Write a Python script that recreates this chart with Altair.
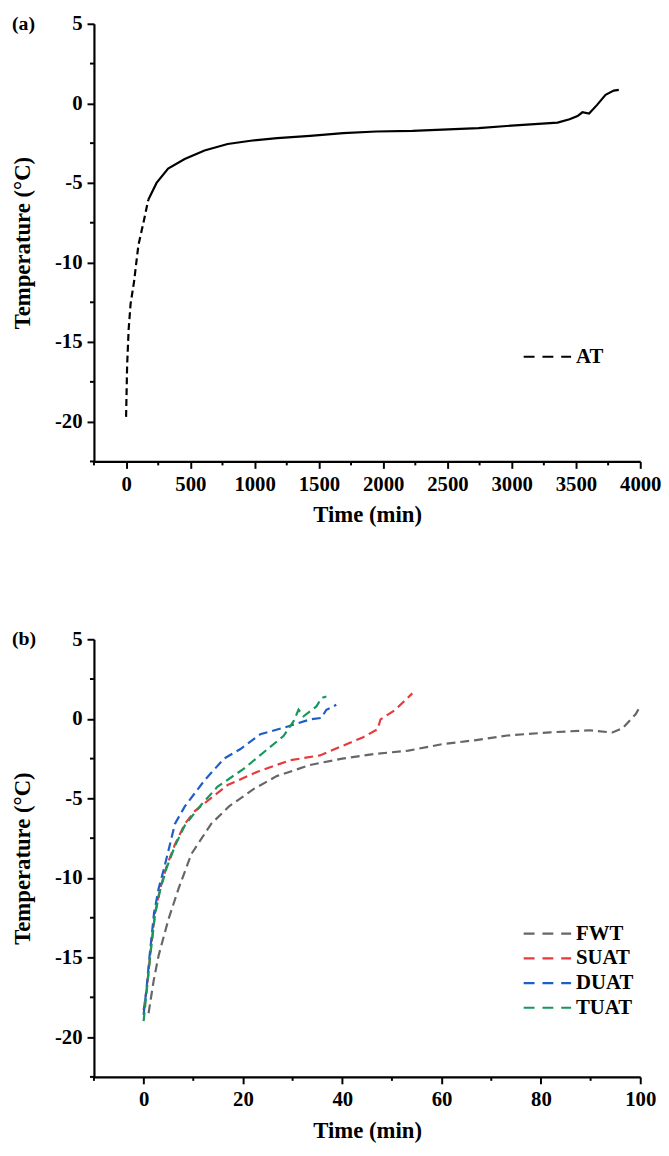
import altair as alt
import pandas as pd

# ---------------- Panel (a): AT ----------------
at_time = [0, 8, 20, 35, 62, 96, 135, 173, 237, 327, 456, 610, 790, 969, 1175,
           1431, 1689, 1945, 2228, 2741, 2998, 3357, 3450, 3512, 3550, 3602,
           3666, 3730, 3794, 3833]
at_temp = [-19.7, -16.5, -14.2, -12.6, -11.2, -8.9, -7.5, -6.05, -5.0, -4.1,
           -3.5, -2.96, -2.55, -2.35, -2.18, -2.04, -1.87, -1.77, -1.73, -1.56,
           -1.40, -1.21, -1.0, -0.80, -0.56, -0.64, -0.08, 0.54, 0.80, 0.85]
at_dash_until = 173  # early part drawn visibly dashed

# ---------------- Panel (b): four series ----------------
fwt_time = [1, 2, 3, 5, 7, 9.6, 13.6, 17.2, 19.5, 22.2, 26.8, 33.5, 40, 46.7,
            53.3, 60, 66.6, 73.2, 81.8, 89.8, 94.4, 96.4, 99.1, 100]
fwt_temp = [-18.5, -16.5, -14.9, -12.6, -10.7, -8.5, -6.6, -5.5, -5.0, -4.4,
            -3.6, -2.9, -2.5, -2.2, -2.0, -1.6, -1.35, -1.05, -0.85, -0.72,
            -0.86, -0.6, 0.3, 0.8]
suat_time = [0, 0.66, 1.3, 2.3, 3.3, 4.6, 6.3, 8.3, 10.3, 12.3, 16.9, 22.9,
             29.5, 35.5, 40.1, 44.1, 47.1, 47.7, 50.7, 54.1]
suat_temp = [-18.3, -16.9, -14.9, -12.2, -10.7, -9.3, -7.9, -6.6, -5.8, -5.3,
             -4.16, -3.33, -2.6, -2.3, -1.69, -1.17, -0.66, -0.04, 0.57, 1.6]
duat_time = [0, 0.6, 1.2, 2.1, 3.0, 4.2, 5.3, 6.3, 8.3, 12.3, 16.2, 19.5, 23.5,
             28.2, 33.5, 35.8, 36.8, 38.8]
duat_temp = [-18.6, -16.9, -14.9, -12.2, -10.7, -9.3, -7.9, -6.6, -5.5, -3.85,
             -2.5, -1.9, -0.97, -0.56, -0.04, 0.06, 0.57, 0.88]
tuat_time = [0, 0.66, 1.3, 2.3, 3.3, 4.6, 6.3, 8.3, 10.3, 11.6, 14.9, 20.2,
             24.2, 28.2, 30.2, 31.2, 32.2, 33.5, 34.8, 35.8, 36.8]
tuat_temp = [-19.0, -17.0, -15.0, -12.3, -10.8, -9.4, -8.0, -6.7, -5.9, -5.4,
             -4.26, -3.13, -2.1, -1.07, -0.15, 0.57, 0.16, 0.47, 0.78, 1.3, 1.4]

series_names = ["FWT", "SUAT", "DUAT", "TUAT"]
series_colors = ["#666666", "#e8393c", "#1d5fc4", "#17975b"]
series_time = [fwt_time, suat_time, duat_time, tuat_time]
series_temp = [fwt_temp, suat_temp, duat_temp, tuat_temp]

# axis ticks
a_x_major = [0, 500, 1000, 1500, 2000, 2500, 3000, 3500, 4000]
a_x_minor = [-250, 250, 750, 1250, 1750, 2250, 2750, 3250, 3750]
b_x_major = [0, 20, 40, 60, 80, 100]
b_x_minor = [-10, 10, 30, 50, 70, 90]
y_major = [5, 0, -5, -10, -15, -20]
y_minor = [2.5, -2.5, -7.5, -12.5, -17.5, -22.5]

FONT = "Liberation Serif"
W, H = 553, 443
DASH = [9, 5]
YTITLE = "Temperature (°C)"
XTITLE = "Time (min)"
LABEL_EXPR = "toString(datum.value)"


def x_axis(values):
    return alt.Axis(values=values, title=XTITLE, tickSize=7, labelPadding=5,
                    titlePadding=10, labelFlush=False, grid=False,
                    labelExpr=LABEL_EXPR)


def y_axis():
    return alt.Axis(values=y_major, title=YTITLE, tickSize=7, labelPadding=5,
                    titlePadding=20, grid=False, labelExpr=LABEL_EXPR)


def minor_ticks(xs, ys, xscale, yscale, xvals):
    dx = pd.DataFrame({"t": xs})
    dy = pd.DataFrame({"T": ys})
    tx = alt.Chart(dx).mark_rule(color="black", strokeWidth=2).encode(
        x=alt.X("t:Q", scale=xscale, axis=x_axis(xvals)),
        y=alt.value(H), y2=alt.value(H + 4))
    ty = alt.Chart(dy).mark_rule(color="black", strokeWidth=2).encode(
        y=alt.Y("T:Q", scale=yscale, axis=y_axis()),
        x=alt.value(0), x2=alt.value(-4))
    return [tx, ty]


def legend_entries(names, colors, x0, y0, step):
    out = []
    for i, (n, c) in enumerate(zip(names, colors)):
        d = pd.DataFrame({"label": [n]})
        line = alt.Chart(d).mark_rule(color=c, strokeWidth=2.2,
                                      strokeDash=[11, 8]).encode(
            x=alt.value(x0), x2=alt.value(x0 + 48),
            y=alt.value(y0 + i * step))
        txt = alt.Chart(d).mark_text(
            align="left", baseline="middle", font=FONT, fontWeight="bold",
            fontSize=21, color="black").encode(
            x=alt.value(x0 + 53), y=alt.value(y0 + i * step), text="label:N")
        out += [line, txt]
    return out


def panel_label(text):
    d = pd.DataFrame({"label": [text]})
    return alt.Chart(d).mark_text(
        align="left", baseline="middle", font=FONT, fontWeight="bold",
        fontSize=20, color="black").encode(
        x=alt.value(-83), y=alt.value(0), text="label:N")


# ---- panel (a)
xa = alt.Scale(domain=[-250, 4000], nice=False, zero=False)
ya = alt.Scale(domain=[-22.5, 5], nice=False, zero=False)
df_a = pd.DataFrame({"t": at_time, "T": at_temp})
dash_part = df_a[df_a["t"] <= at_dash_until]
solid_part = df_a[df_a["t"] >= at_dash_until]

a_dash = alt.Chart(dash_part).mark_line(color="black", strokeWidth=2.2,
                                         strokeDash=[7, 4]).encode(
    x=alt.X("t:Q", scale=xa, axis=x_axis(a_x_major)),
    y=alt.Y("T:Q", scale=ya, axis=y_axis()))
a_solid = alt.Chart(solid_part).mark_line(color="black", strokeWidth=2.2).encode(
    x=alt.X("t:Q", scale=xa, axis=x_axis(a_x_major)),
    y=alt.Y("T:Q", scale=ya, axis=y_axis()))

top = alt.layer(
    a_dash, a_solid, *minor_ticks(a_x_minor, y_minor, xa, ya, a_x_major),
    *legend_entries(["AT"], ["black"], 435, 337, 25),
    panel_label("(a)")
).properties(width=W, height=H)

# ---- panel (b)
xb = alt.Scale(domain=[-10, 100], nice=False, zero=False)
yb = alt.Scale(domain=[-22.5, 5], nice=False, zero=False)
b_layers = []
for n, c, ts, vs in zip(series_names, series_colors, series_time, series_temp):
    d = pd.DataFrame({"t": ts, "T": vs, "series": n})
    b_layers.append(alt.Chart(d).mark_line(color=c, strokeWidth=2.2,
                                           strokeDash=DASH).encode(
        x=alt.X("t:Q", scale=xb, axis=x_axis(b_x_major)),
        y=alt.Y("T:Q", scale=yb, axis=y_axis())))

bottom = alt.layer(
    *b_layers, *minor_ticks(b_x_minor, y_minor, xb, yb, b_x_major),
    *legend_entries(series_names, series_colors, 435, 298, 25),
    panel_label("(b)")
).properties(width=W, height=H)

chart = alt.vconcat(top, bottom, spacing=103).properties(
    padding={"left": 4, "top": -2, "right": 0, "bottom": 0}
).configure_view(stroke=None).configure_axis(
    domainColor="black", domainWidth=2.2, tickColor="black", tickWidth=2,
    labelFont=FONT, labelFontWeight="bold", labelFontSize=21, labelColor="black",
    titleFont=FONT, titleFontWeight="bold", titleFontSize=23, titleColor="black"
)

chart.save("out.html", embed_options={"renderer": "svg", "actions": False})
